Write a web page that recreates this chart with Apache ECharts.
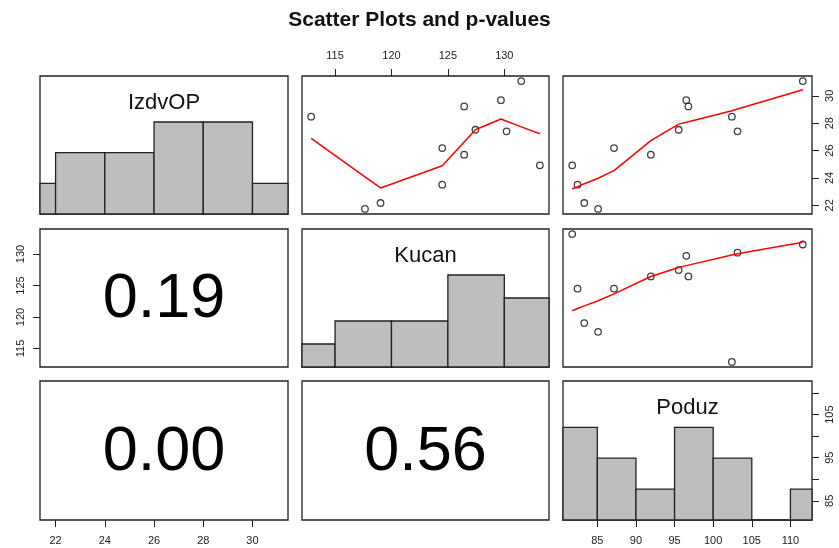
<!DOCTYPE html>
<html>
<head>
<meta charset="utf-8">
<script src="https://cdn.jsdelivr.net/npm/echarts@6/dist/echarts.min.js"></script>
<style>
  html, body { margin: 0; padding: 0; background: #fff; }
  #main { width: 839px; height: 548px; }
</style>
</head>
<body>
<div id="main"></div>
<script>
// observations (same order in every array)
var izdvOP = [28.47, 21.74, 22.17, 26.18, 23.51, 29.22, 25.70, 27.52, 29.68, 27.40, 31.07, 24.92];
var kucan  = [112.88, 117.65, 119.03, 124.5, 124.5, 126.44, 126.44, 127.44, 129.7, 130.2, 131.5, 133.15];
var poduz  = [102.42, 85.1, 83.31, 87.16, 82.44, 96.79, 91.93, 95.53, 96.52, 103.15, 111.6, 81.75];

var varNames = ['IzdvOP', 'Kucan', 'Poduz'];

// histograms on the diagonal
var izdvBins = [20, 22, 24, 26, 28, 30, 32];
var izdvCounts = [1, 2, 2, 3, 3, 1];
var kucanBins = [110, 115, 120, 125, 130, 135];
var kucanCounts = [1, 2, 2, 4, 3];
var poduzBins = [80, 85, 90, 95, 100, 105, 110, 115];
var poduzCounts = [3, 2, 1, 3, 2, 0, 1];

// smoother lines (x sorted)
var smoothKucan = [112.88, 117.65, 119.03, 124.5, 126.44, 127.44, 129.7, 130.2, 131.5, 133.15];
var smoothKucanIzdv = [26.89, 24.07, 23.27, 24.89, 26.63, 27.52, 28.3, 28.14, 27.73, 27.23];
var smoothPoduz = [81.75, 82.44, 83.31, 85.1, 87.16, 91.93, 95.53, 96.52, 96.79, 102.42, 103.15, 111.6];
var smoothPoduzIzdv = [23.19, 23.36, 23.58, 23.98, 24.53, 26.72, 27.93, 28.07, 28.11, 28.91, 29.03, 30.44];
var smoothPoduzKucan = [121.0, 121.35, 121.77, 122.58, 123.67, 126.43, 127.86, 128.15, 128.23, 129.84, 130.05, 131.85];

// p-values in the lower panels
var pValues = [['1-0', '0.19'], ['2-0', '0.00'], ['2-1', '0.56']];

// tick labels
var izdvTicks = [22, 24, 26, 28, 30];
var kucanTicks = [115, 120, 125, 130];
var poduzTicks = [85, 90, 95, 100, 105, 110];
var poduzRightLabels = [85, 95, 105];

var colX = [[40, 288], [302, 549], [563, 812]];
var rowY = [[76, 214], [229, 367], [381, 520]];

var values = [izdvOP, kucan, poduz];
var bins = [izdvBins, kucanBins, poduzBins];
var counts = [izdvCounts, kucanCounts, poduzCounts];

function range(arr) {
    var lo = Math.min.apply(null, arr), hi = Math.max.apply(null, arr);
    var pad = (hi - lo) * 0.04;
    return [lo - pad, hi + pad];
}
var ranges = values.map(range);

var font = 'Liberation Sans, Arial, Helvetica, sans-serif';
var tickStyle = { color: '#222', width: 1 };

function hiddenAxis(g, r) {
    return {
        gridIndex: g, type: 'value', min: r[0], max: r[1],
        axisLine: { show: false }, axisTick: { show: false },
        axisLabel: { show: false }, splitLine: { show: false }
    };
}
function shownAxis(g, r, pos, ticks, labels, rotate, margin) {
    return {
        gridIndex: g, type: 'value', min: r[0], max: r[1], position: pos,
        axisLine: { show: false },
        splitLine: { show: false },
        axisTick: { show: true, length: 7, lineStyle: tickStyle, customValues: ticks },
        axisLabel: {
            show: true, customValues: labels, rotate: rotate, margin: margin,
            color: '#222', fontSize: 11, fontFamily: font
        }
    };
}

var grids = [], xAxes = [], yAxes = [], series = [], graphics = [];

for (var r = 0; r < 3; r++) {
    for (var c = 0; c < 3; c++) {
        var g = r * 3 + c;
        grids.push({
            left: colX[c][0], top: rowY[r][0],
            width: colX[c][1] - colX[c][0], height: rowY[r][1] - rowY[r][0],
            show: true, borderColor: '#222', borderWidth: 1.3, backgroundColor: 'transparent'
        });
        // x axis
        if (r === 0 && c === 1) {
            xAxes.push(shownAxis(g, ranges[1], 'top', kucanTicks, kucanTicks, 0, 15));
        } else if (r === 2 && c === 0) {
            xAxes.push(shownAxis(g, ranges[0], 'bottom', izdvTicks, izdvTicks, 0, 15));
        } else if (r === 2 && c === 2) {
            xAxes.push(shownAxis(g, ranges[2], 'bottom', poduzTicks, poduzTicks, 0, 15));
        } else {
            xAxes.push(hiddenAxis(g, ranges[c]));
        }
        // y axis
        if (r === c) {
            var maxC = Math.max.apply(null, counts[r]);
            yAxes.push(hiddenAxis(g, [0, maxC * 1.5]));
        } else if (r === 0 && c === 2) {
            yAxes.push(shownAxis(g, ranges[0], 'right', izdvTicks, izdvTicks, 90, 12));
        } else if (r === 1 && c === 0) {
            yAxes.push(shownAxis(g, ranges[1], 'left', kucanTicks, kucanTicks, 90, 14));
        } else {
            yAxes.push(hiddenAxis(g, ranges[r]));
        }
    }
}
// extra right axis on the Poduz panel
yAxes.push(shownAxis(8, ranges[2], 'right', poduzTicks, poduzRightLabels, 90, 12));

function histSeries(i) {
    var g = i * 4;
    var data = counts[i].map(function (n, k) { return [bins[i][k], bins[i][k + 1], n]; });
    return {
        type: 'custom', xAxisIndex: g, yAxisIndex: g, data: data, z: 2,
        renderItem: function (params, api) {
            var p0 = api.coord([api.value(0), api.value(2)]);
            var p1 = api.coord([api.value(1), 0]);
            var cs = params.coordSys;
            var rect = echarts.graphic.clipRectByRect(
                { x: p0[0], y: p0[1], width: p1[0] - p0[0], height: p1[1] - p0[1] },
                { x: cs.x, y: cs.y, width: cs.width, height: cs.height });
            return rect && {
                type: 'rect', shape: rect,
                style: { fill: '#bebebe', stroke: '#222', lineWidth: 1.3 }
            };
        }
    };
}
series.push(histSeries(0), histSeries(1), histSeries(2));

function pointSeries(g, xs, ys) {
    return {
        type: 'scatter', xAxisIndex: g, yAxisIndex: g, z: 3,
        data: xs.map(function (x, k) { return [x, ys[k]]; }),
        symbol: 'circle', symbolSize: 6.5,
        itemStyle: { color: 'rgba(0,0,0,0)', borderColor: '#111', borderWidth: 1.3 }
    };
}
function smoothSeries(g, xs, ys) {
    return {
        type: 'line', xAxisIndex: g, yAxisIndex: g, z: 4,
        data: xs.map(function (x, k) { return [x, ys[k]]; }),
        showSymbol: false, symbol: 'none',
        lineStyle: { color: '#ff0000', width: 1.5 }
    };
}
series.push(pointSeries(1, kucan, izdvOP), smoothSeries(1, smoothKucan, smoothKucanIzdv));
series.push(pointSeries(2, poduz, izdvOP), smoothSeries(2, smoothPoduz, smoothPoduzIzdv));
series.push(pointSeries(5, poduz, kucan), smoothSeries(5, smoothPoduz, smoothPoduzKucan));

// variable names on the diagonal
varNames.forEach(function (name, i) {
    graphics.push({
        type: 'text', z: 10,
        x: (colX[i][0] + colX[i][1]) / 2, y: rowY[i][0] + 27,
        style: { text: name, fontSize: 22, fontFamily: font, fill: '#111', align: 'center', verticalAlign: 'middle' }
    });
});
// p-values
pValues.forEach(function (p) {
    var rc = p[0].split('-').map(Number);
    graphics.push({
        type: 'text', z: 10,
        x: (colX[rc[1]][0] + colX[rc[1]][1]) / 2, y: (rowY[rc[0]][0] + rowY[rc[0]][1]) / 2 + 2,
        style: { text: p[1], fontSize: 63, fontFamily: font, fill: '#000', align: 'center', verticalAlign: 'middle' }
    });
});

var chartDom = document.getElementById('main');
var myChart = echarts.init(chartDom, null, { renderer: 'canvas' });
var option = {
    animation: false,
    backgroundColor: '#fff',
    title: {
        text: 'Scatter Plots and p-values',
        left: 'center', top: 5,
        textStyle: { fontSize: 21, fontWeight: 'bold', fontFamily: font, color: '#111' }
    },
    grid: grids,
    xAxis: xAxes,
    yAxis: yAxes,
    series: series,
    graphic: graphics
};
option && myChart.setOption(option);
</script>
</body>
</html>
